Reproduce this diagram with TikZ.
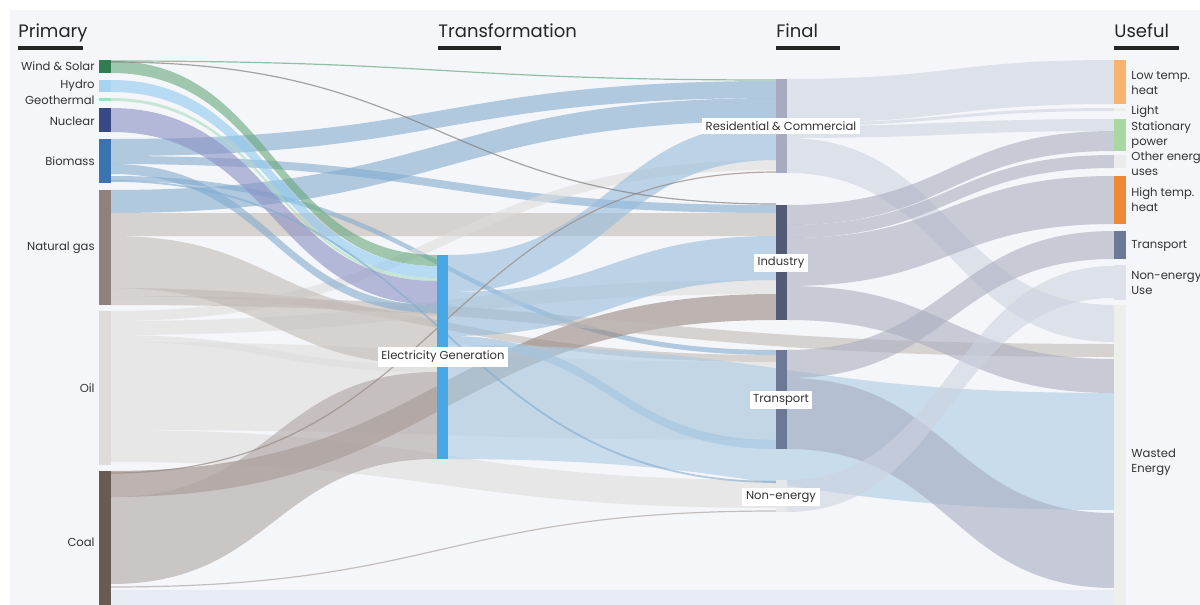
\documentclass[tikz,border=0pt]{standalone}
\usepackage{fontspec}
\setmainfont{Poppins}
\definecolor{bg}{HTML}{F5F6F9}
\definecolor{ws}{HTML}{2F7D51}
\definecolor{hyd}{HTML}{A7D3F2}
\definecolor{geo}{HTML}{A5DCC0}
\definecolor{nuc}{HTML}{3B4886}
\definecolor{bio}{HTML}{3B73B0}
\definecolor{gas}{HTML}{8F827E}
\definecolor{oil}{HTML}{DDDCDB}
\definecolor{coal}{HTML}{6B5A51}
\definecolor{elec}{HTML}{48A8E5}
\definecolor{res}{HTML}{A7ABC1}
\definecolor{ind}{HTML}{525A75}
\definecolor{tra}{HTML}{6B7896}
\definecolor{non}{HTML}{E6E7EA}
\definecolor{low}{HTML}{F8B46F}
\definecolor{lig}{HTML}{EFEFEA}
\definecolor{sta}{HTML}{A9D8A2}
\definecolor{oth}{HTML}{ECECEC}
\definecolor{hig}{HTML}{EE8A35}
\definecolor{neu}{HTML}{DFE1EA}
\definecolor{was}{HTML}{EDF0EA}
\definecolor{fws}{HTML}{66A87C}
\definecolor{fhyd}{HTML}{8EC9EF}
\definecolor{fgeo}{HTML}{A8DCC0}
\definecolor{fnuc}{HTML}{8A90C2}
\definecolor{fbio}{HTML}{82ABCF}
\definecolor{fgas}{HTML}{C1BAB5}
\definecolor{foil}{HTML}{DEDDDD}
\definecolor{fcoal}{HTML}{AFA6A4}
\definecolor{fcoaltwo}{HTML}{988881}
\definecolor{felec}{HTML}{96BDDC}
\definecolor{fwaste}{HTML}{AACBE3}
\definecolor{fres}{HTML}{CDD3E0}
\definecolor{find}{HTML}{ABAEBF}
\definecolor{ftra}{HTML}{A7AEC2}
\definecolor{fbot}{HTML}{DFE5F2}
\newcommand{\flow}[7]{\fill[#7] (#1,#2) .. controls ({(#1+#4)/2},#2) and ({(#1+#4)/2},#5) .. (#4,#5) -- (#4,#6) .. controls ({(#1+#4)/2},#6) and ({(#1+#4)/2},#3) .. (#1,#3) -- cycle;}
\newcommand{\link}[5]{\draw[#5] (#1,#2) .. controls ({(#1+#3)/2},#2) and ({(#1+#3)/2},#4) .. (#3,#4);}
\tikzset{
	fl/.style={fill opacity=0.6},
	lbl/.style={font=\fontsize{5.8}{7.4}\selectfont, text=black!80, inner sep=1pt},
	midlbl/.style={lbl, fill=white, inner sep=1.8pt},
	head/.style={font=\fontsize{9}{10}\selectfont, text=black!85, inner sep=0pt},
	uline/.style={line width=2pt, draw=black!85},
	thin/.style={line width=0.6pt, draw opacity=0.7}
}
\begin{document}
\begin{tikzpicture}[x=0.5pt,y=-0.5pt]
	\def\xa{111}
	\def\xb{437}
	\def\xc{448}
	\def\xd{776}
	\def\xe{787}
	\def\xf{1114}
	\useasboundingbox (0,0) rectangle (1200,605);
	\fill[white] (0,0) rectangle (1200,605);
	\fill[bg] (10,10) rectangle (1200,605);
	% primary to final and useful
	\flow{\xa}{139}{156}{\xd}{81}{98}{fl,fill=fbio}
	\flow{\xa}{190}{213}{\xd}{98}{121}{fl,fill=fbio}
	\flow{\xa}{156}{164}{\xd}{205}{213}{fl,fill=fbio}
	\flow{\xa}{213}{236}{\xd}{213}{236}{fl,fill=fgas}
	\flow{\xa}{176}{181}{\xd}{350}{355}{fl,fill=fbio}
	\flow{\xa}{288}{296}{\xd}{355}{362}{fl,fill=fgas}
	\flow{\xa}{311}{321}{\xd}{160}{170}{fl,fill=foil}
	\flow{\xa}{321}{335}{\xd}{280}{294}{fl,fill=foil}
	\flow{\xa}{342}{430}{\xd}{362}{440}{fl,fill=foil}
	\flow{\xa}{430}{462}{\xd}{480}{508}{fl,fill=foil}
	\flow{\xa}{471}{497}{\xd}{294}{320}{fl,fill=fcoaltwo}
	\flow{\xa}{296}{305}{\xf}{344}{357}{fl,fill=fgas}
	\flow{\xa}{590}{605}{\xf}{590}{605}{fl,fill=fbot}
	% primary to electricity
	\flow{\xa}{61}{73}{\xb}{255}{266}{fl,fill=fws}
	\flow{\xa}{80}{92}{\xb}{266}{278}{fl,fill=fhyd}
	\flow{\xa}{98}{101}{\xb}{278}{281}{fl,fill=fgeo}
	\flow{\xa}{108}{132}{\xb}{281}{305}{fl,fill=fnuc}
	\flow{\xa}{164}{174}{\xb}{305}{313}{fl,fill=fbio}
	\flow{\xa}{236}{288}{\xb}{313}{365}{fl,fill=fgas}
	\flow{\xa}{335}{342}{\xb}{365}{372}{fl,fill=foil}
	\flow{\xa}{497}{584}{\xb}{372}{459}{fl,fill=fcoal}
	% electricity onwards
	\flow{\xc}{255}{292}{\xd}{123}{160}{fl,fill=felec}
	\flow{\xc}{292}{336}{\xd}{236}{280}{fl,fill=felec}
	\flow{\xc}{336}{345}{\xd}{440}{449}{fl,fill=felec}
	\flow{\xc}{345}{459}{\xf}{393}{510}{fl,fill=fwaste}
	% final to useful
	\flow{\xe}{79}{123}{\xf}{60}{104}{fl,fill=fres}
	\flow{\xe}{123}{126}{\xf}{108}{111}{fl,fill=fres}
	\flow{\xe}{126}{138}{\xf}{119}{131}{fl,fill=fres}
	\flow{\xe}{138}{173}{\xf}{305}{342}{fl,fill=fres}
	\flow{\xe}{205}{225}{\xf}{131}{151}{fl,fill=find}
	\flow{\xe}{225}{238}{\xf}{155}{168}{fl,fill=find}
	\flow{\xe}{238}{286}{\xf}{176}{224}{fl,fill=find}
	\flow{\xe}{286}{320}{\xf}{359}{393}{fl,fill=find}
	\flow{\xe}{350}{378}{\xf}{231}{259}{fl,fill=find}
	\flow{\xe}{378}{449}{\xf}{513}{588}{fl,fill=ftra}
	\flow{\xe}{480}{512}{\xf}{266}{298}{fl,fill=fres}
	% thin links
	\link{\xa}{61}{\xd}{80}{thin,draw=fws}
	\link{\xa}{62}{\xd}{204}{thin,draw=gray}
	\link{\xa}{473}{\xd}{172}{thin,draw=fcoaltwo}
	\link{\xa}{587}{\xd}{511}{thin,draw=fcoal}
	\link{\xa}{181}{\xd}{482}{line width=0.9pt,draw=fbio,draw opacity=0.6}
	% bars
	\foreach \y/\h/\c in {60/73/ws,80/92/hyd,98/101/geo,108/132/nuc,139/183/bio,190/305/gas,311/465/oil,471/605/coal}
		\fill[\c] (99,\y) rectangle (\xa,\h);
	\fill[elec] (\xb,255) rectangle (\xc,459);
	\foreach \y/\h/\c in {79/173/res,205/320/ind,350/449/tra,480/512/non}
		\fill[\c] (\xd,\y) rectangle (\xe,\h);
	\foreach \y/\h/\c in {60/104/low,108/111/lig,119/151/sta,155/168/oth,176/224/hig,231/259/tra,265/300/neu,305/605/was}
		\fill[\c] (\xf,\y) rectangle (1126,\h);
	% headers
	\node[head,anchor=base west] (hprim) at (18,38) {Primary};
	\node[head,anchor=base west] (htran) at (438,38) {Transformation};
	\node[head,anchor=base west] (hfin) at (776,38) {Final};
	\node[head,anchor=base west] (huse) at (1114,38) {Useful};
	\draw[uline] (18,48) -- (83,48) (438,48) -- (501,48) (776,48) -- (840,48) (1114,48) -- (1179,48);
	% labels
	\foreach \y/\t/\n in {66/Wind \& Solar/pws,86/Hydro/phyd,100/Geothermal/pgeo,121/Nuclear/pnuc,161/Biomass/pbio,248/Natural gas/pgas,388/Oil/poil,542/Coal/pcoal}
		\node[lbl,anchor=east] (\n) at (97,\y) {\t};
	\node[midlbl] (telec) at (443,357) {Electricity Generation};
	\node[midlbl] (nres) at (781,126) {Residential \& Commercial};
	\node[midlbl] (nind) at (781,263) {Industry};
	\node[midlbl] (ntra) at (781,400) {Transport};
	\node[midlbl] (nnon) at (781,497) {Non-energy};
	\node[lbl,anchor=west,align=left] (ulow) at (1129,83) {Low temp.\\heat};
	\node[lbl,anchor=west] (ulig) at (1129,112) {Light};
	\node[lbl,anchor=west,align=left] (usta) at (1129,135) {Stationary\\power};
	\node[lbl,anchor=west,align=left] (uoth) at (1129,164) {Other energy\\uses};
	\node[lbl,anchor=west,align=left] (uhig) at (1129,200) {High temp.\\heat};
	\node[lbl,anchor=west] (utra) at (1129,246) {Transport};
	\node[lbl,anchor=west,align=left] (uneu) at (1129,283) {Non-energy\\Use};
	\node[lbl,anchor=west,align=left] (uwas) at (1129,462) {Wasted\\Energy};
\end{tikzpicture}
\end{document}
